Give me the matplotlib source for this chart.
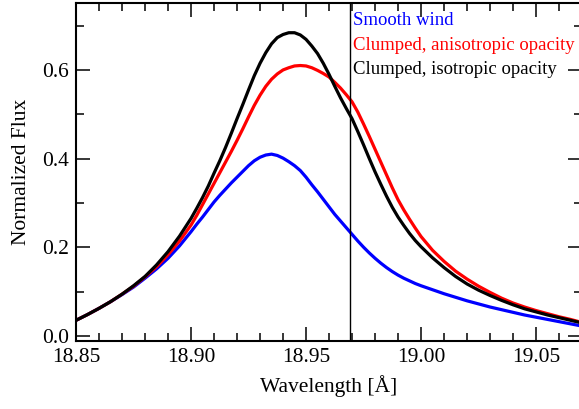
import matplotlib
matplotlib.use('Agg')
import matplotlib.pyplot as plt
from matplotlib.ticker import MultipleLocator

plt.rcParams['font.family'] = ['Liberation Serif', 'DejaVu Serif']

# wavelength grid [A]
wave = [18.85, 18.855, 18.86, 18.865, 18.87, 18.875, 18.88, 18.885, 18.89, 18.895,
        18.90, 18.9025, 18.905, 18.9075, 18.91, 18.9125, 18.915, 18.9175, 18.92, 18.9225,
        18.925, 18.9275, 18.93, 18.9325, 18.935, 18.9375, 18.94, 18.9425, 18.945, 18.9475,
        18.95, 18.9525, 18.955, 18.9575, 18.96, 18.9625, 18.965, 18.9675, 18.97, 18.9725,
        18.975, 18.9775, 18.98, 18.9825, 18.985, 18.9875, 18.99, 18.9925, 18.995, 18.9975,
        19.00, 19.005, 19.01, 19.015, 19.02, 19.025, 19.03, 19.035, 19.04, 19.045,
        19.05, 19.055, 19.06, 19.065, 19.07]

smooth = [0.035, 0.048, 0.062, 0.077, 0.093, 0.110, 0.130, 0.151, 0.175, 0.203,
          0.235, 0.252, 0.268, 0.285, 0.302, 0.317, 0.331, 0.345, 0.358, 0.371,
          0.384, 0.395, 0.403, 0.408, 0.410, 0.407, 0.401, 0.393, 0.384, 0.373,
          0.358, 0.341, 0.325, 0.308, 0.291, 0.274, 0.259, 0.244, 0.229, 0.214,
          0.200, 0.187, 0.175, 0.164, 0.154, 0.145, 0.137, 0.130, 0.124, 0.118,
          0.113, 0.104, 0.095, 0.087, 0.079, 0.072, 0.065, 0.059, 0.053, 0.047,
          0.042, 0.037, 0.032, 0.027, 0.022]

aniso = [0.035, 0.048, 0.062, 0.077, 0.094, 0.112, 0.133, 0.156, 0.183, 0.214,
         0.250, 0.272, 0.296, 0.320, 0.344, 0.368, 0.392, 0.416, 0.441, 0.467,
         0.494, 0.520, 0.543, 0.563, 0.579, 0.591, 0.600, 0.605, 0.609, 0.610,
         0.609, 0.605, 0.599, 0.592, 0.584, 0.572, 0.559, 0.544, 0.528, 0.505,
         0.478, 0.450, 0.421, 0.392, 0.363, 0.334, 0.307, 0.284, 0.263, 0.243,
         0.224, 0.193, 0.168, 0.146, 0.128, 0.112, 0.098, 0.085, 0.074, 0.065,
         0.057, 0.050, 0.043, 0.037, 0.030]

iso = [0.035, 0.048, 0.062, 0.077, 0.094, 0.113, 0.134, 0.160, 0.190, 0.225,
       0.265, 0.288, 0.312, 0.338, 0.367, 0.395, 0.425, 0.457, 0.490, 0.522,
       0.555, 0.587, 0.615, 0.639, 0.659, 0.673, 0.680, 0.684, 0.684, 0.679,
       0.669, 0.654, 0.637, 0.615, 0.590, 0.563, 0.537, 0.513, 0.490, 0.461,
       0.431, 0.400, 0.370, 0.342, 0.315, 0.290, 0.268, 0.249, 0.231, 0.215,
       0.201, 0.176, 0.154, 0.134, 0.117, 0.103, 0.091, 0.080, 0.070, 0.061,
       0.054, 0.047, 0.041, 0.035, 0.029]

line_pos = 18.969
labels = ['Smooth wind', 'Clumped, anisotropic opacity', 'Clumped, isotropic opacity']
colors = ['#0000ff', '#ff0000', '#000000']
label_y = [0.711, 0.656, 0.602]

fig = plt.figure(figsize=(5.79, 4.09), dpi=100)
ax = fig.add_axes([0.1313, 0.167, 0.874, 0.8245])

ax.plot(wave, smooth, color=colors[0], lw=2.3)
ax.plot(wave, aniso, color=colors[1], lw=2.3)
ax.plot(wave, iso, color=colors[2], lw=2.3)
ax.axvline(line_pos, color='black', lw=1.0)

ax.set_xlim(18.85, 19.07)
ax.set_ylim(-0.011, 0.75)
ax.xaxis.set_major_locator(MultipleLocator(0.05))
ax.xaxis.set_minor_locator(MultipleLocator(0.01))
ax.yaxis.set_major_locator(MultipleLocator(0.2))
ax.yaxis.set_minor_locator(MultipleLocator(0.1))
ax.xaxis.set_major_formatter(plt.FormatStrFormatter('%.2f'))
ax.yaxis.set_major_formatter(plt.FormatStrFormatter('%.1f'))

ax.tick_params(which='both', direction='in', top=True, right=True,
               labelsize=15.5, width=1.1)
ax.tick_params(which='major', length=10, pad=5)
ax.tick_params(which='minor', length=5.5)
for sp in ax.spines.values():
    sp.set_linewidth(1.5)

ax.set_xlabel('Wavelength [Å]', fontsize=15.5, labelpad=6)
ax.set_ylabel('Normalized Flux', fontsize=15.5, labelpad=8)

for lab, c, y in zip(labels, colors, label_y):
    ax.text(18.9705, y, lab, color=c, fontsize=13.5, va='center', ha='left')

plt.savefig('out.png', dpi=100)
